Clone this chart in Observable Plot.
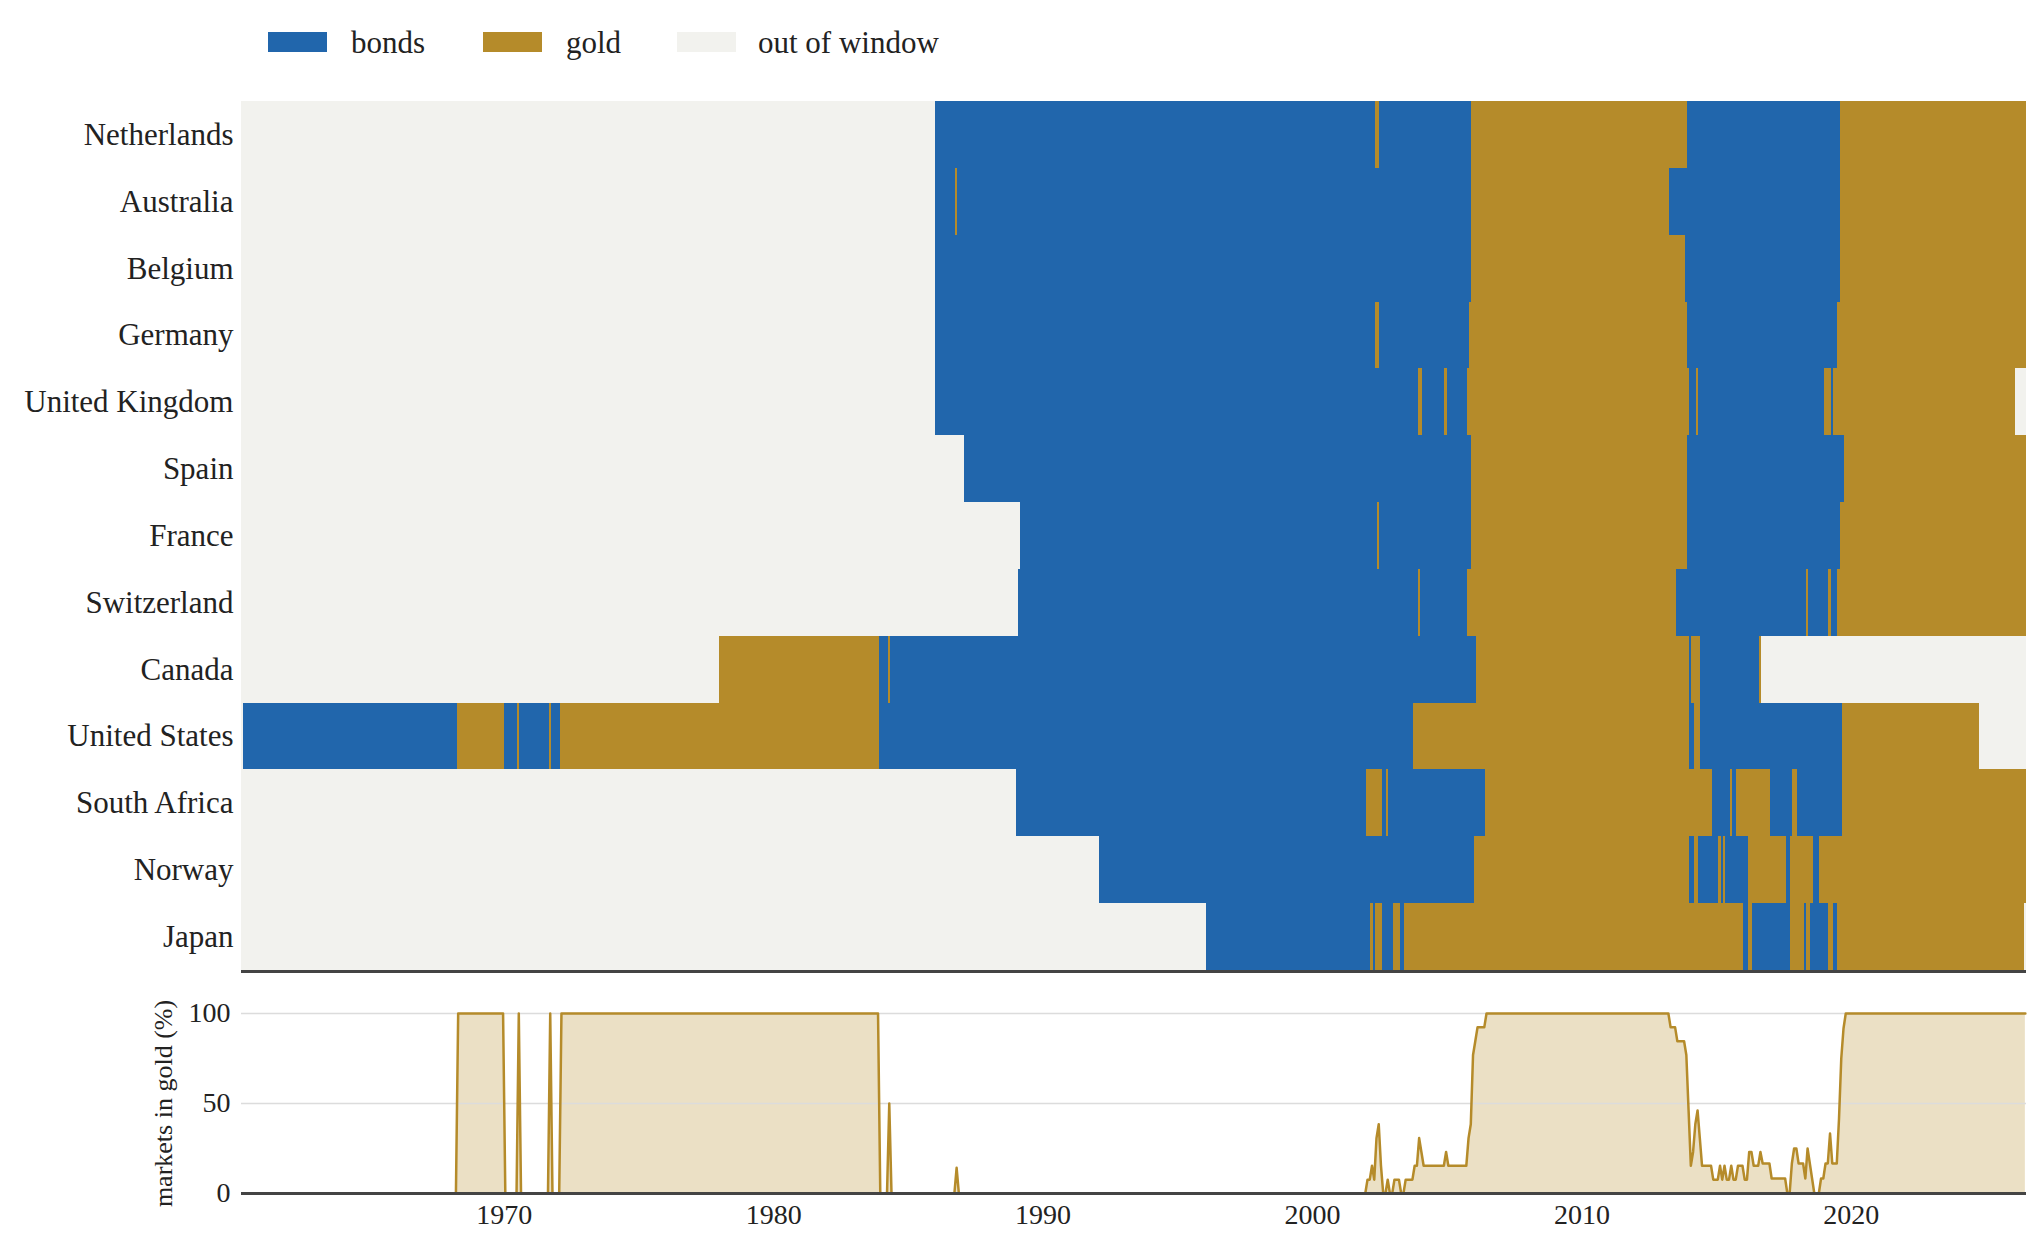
<!DOCTYPE html>
<html>
<head>
<meta charset="utf-8">
<script src="https://cdn.jsdelivr.net/npm/d3@7"></script>
<script src="https://cdn.jsdelivr.net/npm/@observablehq/plot@0.6"></script>
<style>
  html, body { margin: 0; padding: 0; background: #fff; }
  body { width: 2044px; height: 1250px; overflow: hidden; font-family: "Liberation Serif", serif; color: #222; }
  #legend { position: relative; height: 80px; }
  #legend .sw { position: absolute; top: 32px; width: 59px; height: 20px; }
  #legend .lb { position: absolute; top: 27px; font-size: 31px; line-height: 31px; white-space: nowrap; }
  #heat svg, #share svg { display: block; }
  #rule { margin-left: 241px; width: 1785px; height: 3px; background: #444; }
</style>
</head>
<body>
<div id="legend"></div>
<div id="heat"></div>
<div id="rule"></div>
<div id="share"></div>
<script>
// ---------- data ----------
const countries = ["Netherlands", "Australia", "Belgium", "Germany", "United Kingdom", "Spain",
  "France", "Switzerland", "Canada", "United States", "South Africa", "Norway", "Japan"];

const stateCodes = ["B", "G", "O"];
const stateLabels = ["bonds", "gold", "out of window"];

const dataStart = "1960-04";
const dataEnd = "2026-07"; // exclusive

// each entry: month when the state begins, state code (B bonds, G gold, O out of window)
const netherlands = ["1960-04 O", "1986-01 B", "2002-05 G", "2002-07 B", "2005-12 G", "2013-12 B", "2019-08 G"];
const australia = ["1960-04 O", "1986-01 B", "1986-10 G", "1986-11 B", "2005-12 G", "2013-04 B", "2019-08 G"];
const belgium = ["1960-04 O", "1986-01 B", "2005-12 G", "2013-11 B", "2019-08 G"];
const germany = ["1960-04 O", "1986-01 B", "2002-05 G", "2002-07 B", "2005-11 G", "2013-12 B", "2019-07 G"];
const unitedKingdom = ["1960-04 O", "1986-01 B", "2003-12 G", "2004-02 B", "2004-12 G", "2005-01 B", "2005-10 G",
  "2014-01 B", "2014-04 G", "2014-05 B", "2019-01 G", "2019-04 B", "2019-05 G", "2026-02 O"];
const spain = ["1960-04 O", "1987-02 B", "2005-12 G", "2013-12 B", "2019-10 G"];
const france = ["1960-04 O", "1989-03 B", "2002-06 G", "2002-07 B", "2005-12 G", "2013-12 B", "2019-08 G"];
const switzerland = ["1960-04 O", "1989-02 B", "2003-12 G", "2004-01 B", "2005-10 G", "2013-07 B",
  "2018-05 G", "2018-06 B", "2019-03 G", "2019-04 B", "2019-07 G"];
const canada = ["1960-04 O", "1978-01 G", "1983-12 B", "1984-04 G", "1984-05 B", "2006-02 G",
  "2014-01 B", "2014-02 G", "2014-06 B", "2016-08 G", "2016-09 O"];
const unitedStates = ["1960-04 O", "1960-05 B", "1968-04 G", "1970-01 B", "1970-07 G", "1970-08 B",
  "1971-09 G", "1971-10 B", "1972-02 G", "1983-12 B", "2003-10 G", "2014-01 B", "2014-03 G",
  "2014-06 B", "2019-09 G", "2024-10 O"];
const southAfrica = ["1960-04 O", "1989-01 B", "2002-01 G", "2002-08 B", "2002-10 G", "2002-11 B",
  "2006-06 G", "2014-11 B", "2015-07 G", "2015-08 B", "2015-10 G", "2017-01 B", "2017-11 G",
  "2018-01 B", "2019-09 G"];
const norway = ["1960-04 O", "1992-02 B", "2006-01 G", "2014-01 B", "2014-03 G", "2014-05 B",
  "2015-02 G", "2015-03 B", "2015-04 G", "2015-05 B", "2016-03 G", "2017-08 B", "2017-10 G",
  "2018-08 B", "2018-11 G"];
const japan = ["1960-04 O", "1996-02 B", "2002-03 G", "2002-04 B", "2002-05 G", "2002-08 B",
  "2003-01 G", "2003-04 B", "2003-06 G", "2016-01 B", "2016-03 G", "2016-05 B", "2017-10 G",
  "2018-04 B", "2018-05 G", "2018-07 B", "2019-03 G", "2019-05 B", "2019-07 G", "2026-06 O"];

const changeLists = [netherlands, australia, belgium, germany, unitedKingdom, spain, france,
  switzerland, canada, unitedStates, southAfrica, norway, japan];

const xTicks = [1970, 1980, 1990, 2000, 2010, 2020];
const yTicks = [0, 50, 100];

// ---------- build tables ----------
const parseMonth = s => { const [y, m] = s.split("-").map(Number); return y + (m - 1) / 12; };
const startT = parseMonth(dataStart);
const endT = parseMonth(dataEnd);
const labelOf = c => stateLabels[stateCodes.indexOf(c)];

const runs = [];
countries.forEach((name, i) => {
  const pts = changeLists[i].map(e => { const [d, s] = e.split(" "); return {t: parseMonth(d), s: labelOf(s)}; });
  pts.forEach((p, j) => runs.push({
    country: name, x1: p.t, x2: j + 1 < pts.length ? pts[j + 1].t : endT, state: p.s
  }));
});

const monthIdx = d3.range(Math.round(startT * 12), Math.round(endT * 12));
const shareData = monthIdx.map(mi => {
  const t = mi / 12 + 1 / 24;
  let g = 0, inWin = 0;
  for (const r of runs) {
    if (r.x1 <= t && t < r.x2) {
      if (r.state !== "out of window") inWin++;
      if (r.state === "gold") g++;
    }
  }
  return {t, p: inWin ? 100 * g / inWin : 0};
});

// ---------- styles ----------
const colors = ["#2166ac", "#b58b2a", "#f2f2ee"];
const goldColor = colors[1];

// ---------- legend ----------
const legendDiv = document.getElementById("legend");
const swX = [268, 483, 677], lbX = [351, 566, 758];
stateLabels.forEach((s, i) => {
  const sw = document.createElement("div");
  sw.className = "sw"; sw.style.left = swX[i] + "px"; sw.style.background = colors[i];
  const lb = document.createElement("div");
  lb.className = "lb"; lb.style.left = lbX[i] + "px"; lb.textContent = s;
  legendDiv.append(sw, lb);
});

// ---------- heatmap ----------
const heatPlot = Plot.plot({
  width: 2044,
  height: 890,
  marginLeft: 241,
  marginRight: 18,
  marginTop: 21,
  marginBottom: 0,
  x: {domain: [startT, endT], axis: null},
  y: {domain: countries, padding: 0, round: false, tickSize: 0, tickPadding: 8, label: null},
  color: {domain: stateLabels, range: colors},
  style: {fontFamily: "Liberation Serif", fontSize: "31px", color: "#222", background: "white"},
  marks: [
    Plot.barX(runs, {x1: "x1", x2: "x2", y: "country", fill: "state", shapeRendering: "crispEdges"})
  ]
});
document.getElementById("heat").append(heatPlot);

// ---------- share in gold ----------
const sharePlot = Plot.plot({
  width: 2044,
  height: 277,
  marginLeft: 241,
  marginRight: 18,
  marginTop: 40,
  marginBottom: 57,
  x: {domain: [startT, endT], ticks: xTicks, tickFormat: d => String(d), tickSize: 0, tickPadding: 11, label: null},
  y: {domain: [0, 100], ticks: yTicks, tickSize: 0, tickPadding: 11, label: null},
  style: {fontFamily: "Liberation Serif", fontSize: "28px", color: "#222", background: "white"},
  marks: [
    Plot.areaY(shareData, {x: "t", y: "p", fill: goldColor, fillOpacity: 0.27}),
    Plot.ruleY(yTicks.filter(d => d > 0), {stroke: "#dcdcdc", strokeWidth: 1.5}),
    Plot.lineY(shareData, {x: "t", y: "p", stroke: goldColor, strokeWidth: 2.5}),
    Plot.ruleY([0], {stroke: "#444", strokeWidth: 3}),
    Plot.text(["markets in gold (%)"], {text: d => d, frameAnchor: "left", textAnchor: "middle", dx: -78, rotate: -90, fontSize: 26, fill: "#222"})
  ]
});
document.getElementById("share").append(sharePlot);
</script>
</body>
</html>
